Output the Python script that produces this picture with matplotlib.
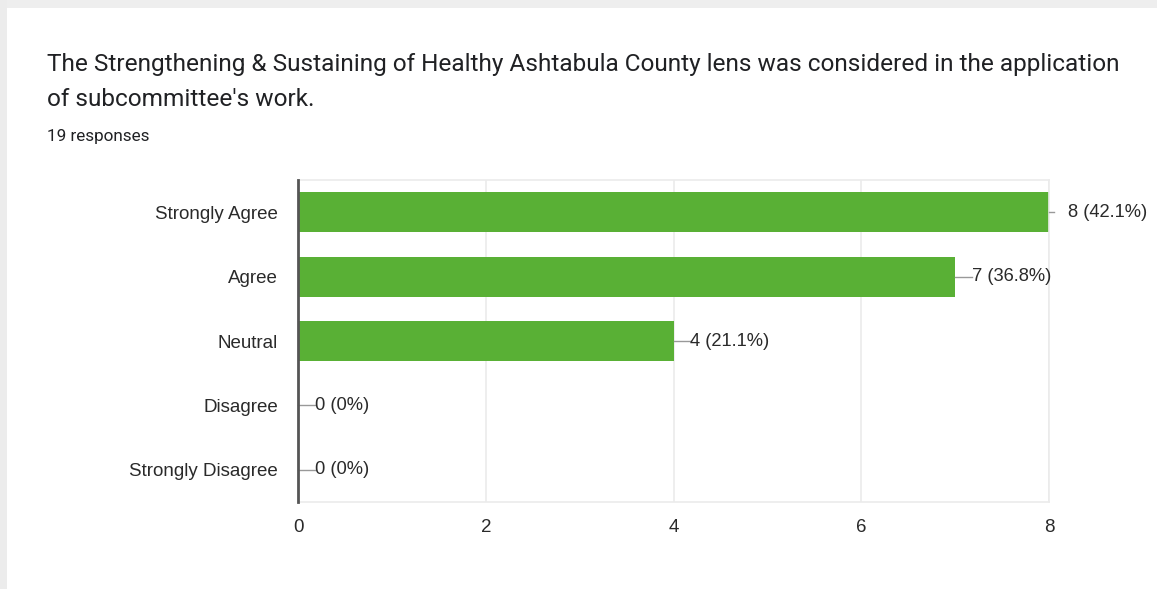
import matplotlib.pyplot as plt
from matplotlib.patches import Rectangle

plt.rcParams['font.family'] = ['Liberation Sans', 'DejaVu Sans']

categories = ['Strongly Agree', 'Agree', 'Neutral', 'Disagree', 'Strongly Disagree']
counts = [8, 7, 4, 0, 0]
percent_labels = ['42.1%', '36.8%', '21.1%', '0%', '0%']
x_ticks = [0, 2, 4, 6, 8]
n_responses = 19

W, H = 1157, 589
fig = plt.figure(figsize=(W / 100, H / 100), dpi=100)
fig.patch.set_facecolor('white')

# card frame: grey strip at the top and on the left
fig.add_artist(Rectangle((0, 1 - 8 / H), 1, 8 / H, transform=fig.transFigure,
                         facecolor='#eeeeee', edgecolor='none', zorder=0))
fig.add_artist(Rectangle((0, 0), 7 / W, 1, transform=fig.transFigure,
                         facecolor='#ececec', edgecolor='none', zorder=0))

title_font = ['Roboto', 'DejaVu Sans']
fig.text(47 / W, 1 - 64 / H,
         'The Strengthening & Sustaining of Healthy Ashtabula County lens was considered in the application',
         fontsize=17.6, color='#202124', va='center', family=title_font)
fig.text(47 / W, 1 - 100 / H, "of subcommittee's work.",
         fontsize=17.6, color='#202124', va='center', family=title_font)
fig.text(47 / W, 1 - 136 / H, f'{n_responses} responses',
         fontsize=12.3, color='#202124', va='center', family=title_font)

left, right, top, bottom = 298, 1049, 180, 502
ax = fig.add_axes([left / W, 1 - bottom / H, (right - left) / W, (bottom - top) / H])

y = list(range(len(categories)))
ax.barh(y, counts, height=0.62, color='#59b035', zorder=2)
ax.set_ylim(len(categories) - 0.5, -0.5)
ax.set_xlim(0, 8)

ax.set_xticks(x_ticks)
ax.set_xticklabels([str(t) for t in x_ticks])
ax.set_yticks(y)
ax.set_yticklabels(categories)
ax.tick_params(axis='both', length=0, labelsize=13.5, colors='#2a2a2a')
ax.tick_params(axis='y', pad=14.4)
ax.tick_params(axis='x', pad=12.5)

ax.grid(axis='x', color='#ebebeb', linewidth=1.2, zorder=0)
for side in ['top', 'right', 'bottom']:
    ax.spines[side].set_color('#ebebeb')
    ax.spines[side].set_linewidth(1.2)
ax.spines['left'].set_color('#555555')
ax.spines['left'].set_linewidth(2)
ax.spines['left'].set_zorder(3)

# value labels with a short leader line
px = 8 / (right - left)
for i, (c, p) in enumerate(zip(counts, percent_labels)):
    if c == max(counts):
        ax.plot([c, c + 5 * px], [i, i], color='#999999', lw=1, zorder=3, clip_on=False)
        tx = c + 19 * px
    else:
        ax.plot([c, c + 17 * px], [i, i], color='#999999', lw=1, zorder=3, clip_on=False)
        tx = c + 17 * px
    ax.text(tx, i, f'{c} ({p})', va='center', ha='left', fontsize=13.2,
            color='#2a2a2a', zorder=4, clip_on=False)

fig.savefig('out.png', dpi=100)
